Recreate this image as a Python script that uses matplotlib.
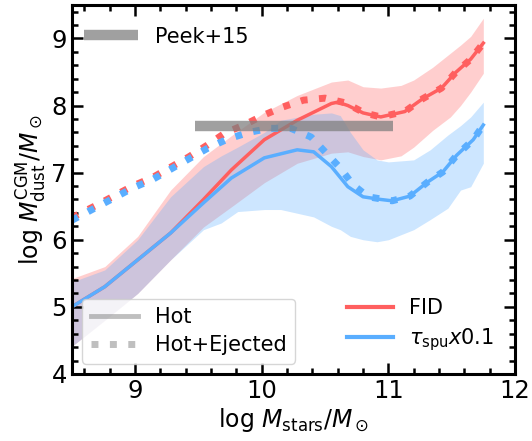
import numpy as np
import matplotlib.pyplot as plt
from matplotlib.lines import Line2D

# ---- data ----
# solid lines (Hot)
x_fid = [8.5, 8.76, 9.02, 9.28, 9.54, 9.76, 10.02, 10.28, 10.55, 10.6, 10.68, 10.8, 10.94,
         11.13, 11.27, 11.42, 11.53, 11.65, 11.75]
y_fid = [5.0, 5.3, 5.7, 6.1, 6.6, 7.04, 7.49, 7.78, 8.03, 8.05, 8.0, 7.89, 7.83,
         7.91, 8.1, 8.26, 8.49, 8.69, 8.93]
x_spu = [8.5, 8.76, 9.02, 9.28, 9.54, 9.76, 10.02, 10.28, 10.41, 10.55, 10.68, 10.8, 10.94,
         11.03, 11.17, 11.31, 11.43, 11.54, 11.67, 11.75]
y_spu = [5.0, 5.3, 5.7, 6.1, 6.55, 6.92, 7.22, 7.34, 7.31, 7.09, 6.79, 6.64, 6.6,
         6.58, 6.65, 6.86, 7.01, 7.26, 7.49, 7.71]

# dotted lines (Hot+Ejected)
x_fid_ej = [8.5, 8.68, 8.83, 8.98, 9.14, 9.28, 9.42, 9.57, 9.71, 9.86, 10.02, 10.17, 10.33,
            10.5, 10.66, 10.81, 10.94, 11.13, 11.27, 11.42, 11.53, 11.65, 11.75]
y_fid_ej = [6.33, 6.5, 6.65, 6.8, 6.93, 7.08, 7.23, 7.41, 7.59, 7.71, 7.86, 7.98, 8.08,
            8.11, 8.04, 7.89, 7.83, 7.91, 8.1, 8.26, 8.49, 8.69, 8.93]
x_spu_ej = [8.5, 8.68, 8.83, 8.98, 9.14, 9.28, 9.42, 9.57, 9.73, 9.9, 10.06, 10.23, 10.39,
            10.5, 10.62, 10.72, 10.84, 11.03, 11.17, 11.31, 11.43, 11.54, 11.67, 11.75]
y_spu_ej = [6.29, 6.47, 6.62, 6.77, 6.9, 7.05, 7.2, 7.36, 7.5, 7.6, 7.66, 7.66, 7.53,
            7.31, 7.07, 6.82, 6.64, 6.58, 6.65, 6.86, 7.01, 7.26, 7.49, 7.71]

# scatter bands
xb_fid = [8.5, 8.76, 9.02, 9.28, 9.54, 9.76, 10.02, 10.28, 10.55, 10.68, 10.8, 10.94, 11.1,
          11.2, 11.35, 11.49, 11.57, 11.65, 11.75]
fid_lo = [4.41, 4.8, 5.2, 5.7, 6.19, 6.49, 6.85, 7.14, 7.29, 7.31, 7.24, 7.19, 7.25,
          7.38, 7.63, 7.83, 8.0, 8.2, 8.48]
fid_hi = [5.42, 5.6, 6.05, 6.74, 7.24, 7.55, 7.9, 8.15, 8.35, 8.38, 8.28, 8.26, 8.3,
          8.38, 8.57, 8.78, 8.9, 9.03, 9.3]
xb_spu = [8.5, 8.76, 9.02, 9.28, 9.54, 9.68, 9.81, 10.02, 10.15, 10.41, 10.55, 10.62, 10.7,
          10.8, 10.91, 11.0, 11.2, 11.33, 11.47, 11.57, 11.65, 11.75]
spu_lo = [4.41, 4.8, 5.2, 5.7, 6.15, 6.25, 6.42, 6.45, 6.45, 6.34, 6.2, 6.15, 6.05,
          6.0, 5.97, 6.0, 6.15, 6.3, 6.47, 6.74, 6.79, 7.14]
spu_hi = [5.37, 5.55, 6.0, 6.64, 7.09, 7.25, 7.38, 7.6, 7.78, 7.87, 7.89, 7.85, 7.6,
          7.34, 7.19, 7.16, 7.19, 7.34, 7.56, 7.7, 7.83, 8.05]

# Peek+15 observation
x_peek = [9.47, 11.04]
y_peek = [7.7, 7.7]

red = '#ff5f5f'
blue = '#5aaeff'

fig = plt.figure(figsize=(5.32, 4.41), dpi=100)
ax = fig.add_axes([0.135, 0.152, 0.833, 0.837])

ax.fill_between(xb_fid, fid_lo, fid_hi, color=red, alpha=0.3, lw=0)
ax.fill_between(xb_spu, spu_lo, spu_hi, color=blue, alpha=0.3, lw=0)

ax.plot(x_fid, y_fid, color=red, lw=2.5)
ax.plot(x_spu, y_spu, color=blue, lw=2.5)
ax.plot(x_fid_ej, y_fid_ej, color=red, lw=5, ls=':')
ax.plot(x_spu_ej, y_spu_ej, color=blue, lw=5, ls=':')

pk, = ax.plot(x_peek, y_peek, color='gray', lw=7.5, alpha=0.75, solid_capstyle='butt')

ax.set_xlim(8.5, 12)
ax.set_ylim(4, 9.5)
ax.set_xticks([9, 10, 11, 12])
ax.set_yticks([4, 5, 6, 7, 8, 9])
ax.minorticks_on()
ax.tick_params(which='both', direction='in', top=True, right=True, width=1.8)
ax.tick_params(which='major', length=8, labelsize=17.5)
ax.tick_params(which='minor', length=4)
for s in ax.spines.values():
    s.set_linewidth(2.2)

ax.set_xlabel(r'log $M_{\rm stars}/M_\odot$', fontsize=17, labelpad=2)
ax.set_ylabel(r'log $M_{\rm dust}^{\rm CGM}/M_\odot$', fontsize=17, labelpad=2)

leg1 = ax.legend([pk], ['Peek+15'], loc='upper left', bbox_to_anchor=(0, 0.975),
                 frameon=False, fontsize=15, handlelength=2.6, borderaxespad=0.2)
ax.add_artist(leg1)

h_hot = Line2D([], [], color='gray', lw=3.5, alpha=0.5)
h_ej = Line2D([], [], color='gray', lw=5, ls=':', alpha=0.5)
leg2 = ax.legend([h_hot, h_ej], ['Hot', 'Hot+Ejected'], loc='lower left', fontsize=15,
                 handlelength=2.3, borderaxespad=0.5, labelspacing=0.4)
ax.add_artist(leg2)

h_fid = Line2D([], [], color=red, lw=3)
h_spu = Line2D([], [], color=blue, lw=3)
ax.legend([h_fid, h_spu], ['FID', r'$\tau_{\rm spu}x0.1$'], loc='lower right',
          frameon=False, fontsize=15, handlelength=2.2, borderaxespad=0.6, labelspacing=0.4)

fig.savefig('out.png', dpi=100)
